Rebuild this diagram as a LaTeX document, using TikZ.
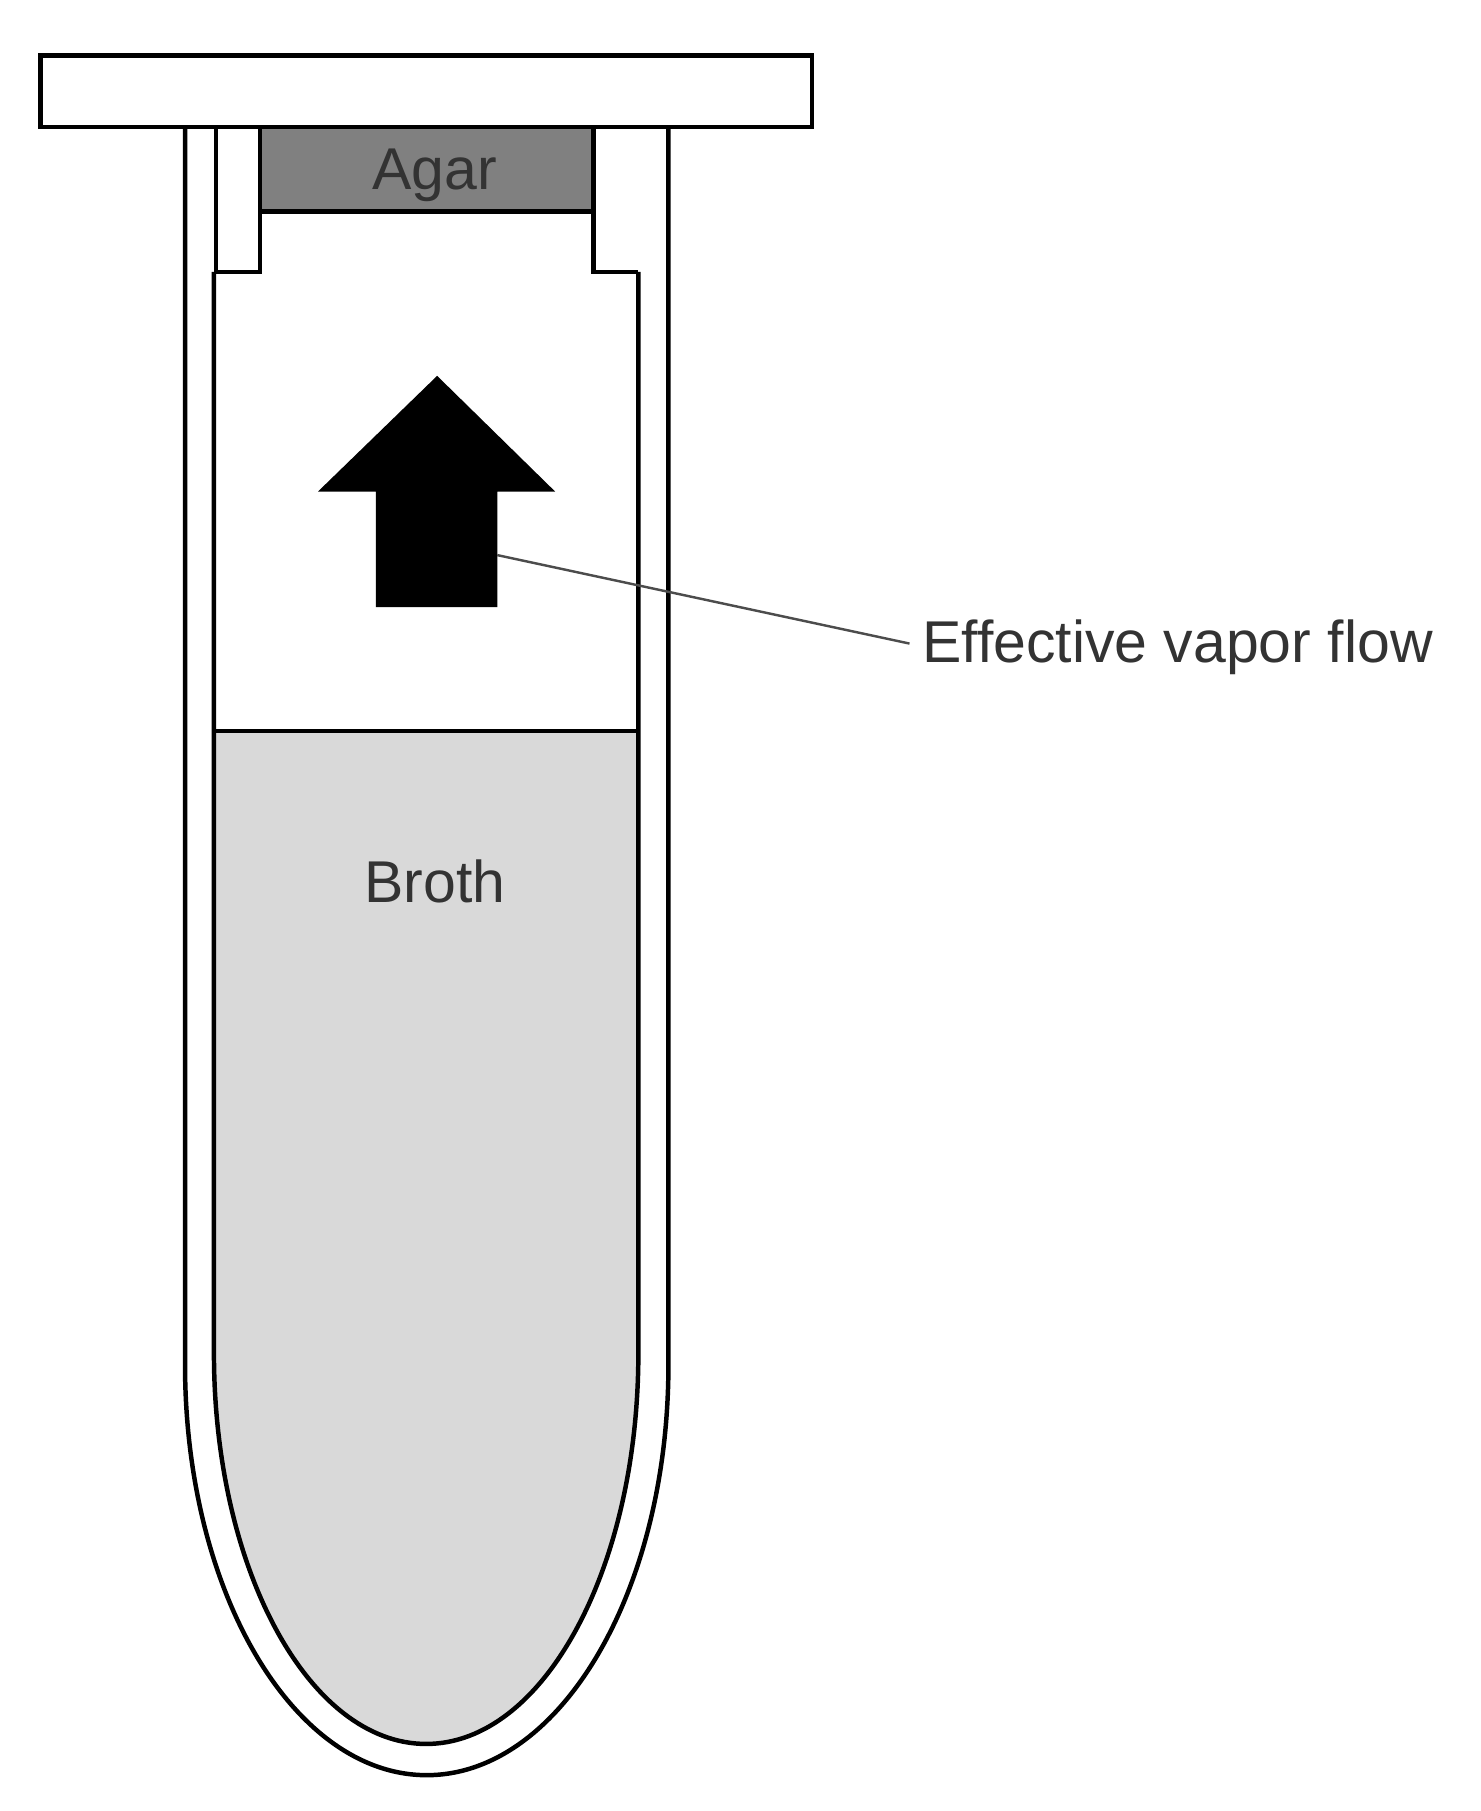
\documentclass[tikz,border=0pt]{standalone}
\usepackage{fontspec}
\setmainfont{Liberation Sans}
\begin{document}
\begin{tikzpicture}[x=0.01cm,y=0.01cm,
	wall/.style={line width=1.1pt,black},
	lbl/.style={text=black!80,font=\fontsize{14.5}{17}\selectfont,inner sep=0pt}]
		\useasboundingbox (0,0) rectangle (1280,-1566);
		
		% broth
		\fill[black!15] (185,-632) -- (185,-1170) arc (180:360:183.5 and 338) -- (552,-632) -- cycle;
		\draw[wall] (185,-632) -- (552,-632);
		
		% tube
		\draw[wall] (160,-110) -- (160,-1180) arc (180:360:209 and 355) -- (578,-110);
		\draw[wall] (185,-235) -- (185,-1170) arc (180:360:183.5 and 338) -- (552,-235);
		
		% stopper
		\draw[wall,fill=white] (35,-48) rectangle (702,-110);
		\draw[wall] (187,-110) |- (225,-235) -- (225,-110);
		\draw[wall] (513,-110) |- (552,-235);
		\draw[wall,fill=black!50] (225,-110) rectangle (513,-183);
		\node[lbl] (agar) at (376,-152) {Agar};
		
		% vapor arrow
		\fill (378,-325) -- (480,-425) -- (430,-425) -- (430,-525) -- (325,-525)
		-- (325,-425) -- (275,-425) -- cycle;
		\coordinate (flow) at (430,-480);
		\node[lbl,anchor=west] (vapor) at (797,-560) {Effective vapor flow};
		\draw[black!70,line width=0.6pt] (flow) -- ([xshift=-3pt,yshift=1pt]vapor.west);
		
		\node[lbl] (broth) at (376,-762) {Broth};
	\end{tikzpicture}
\end{document}
